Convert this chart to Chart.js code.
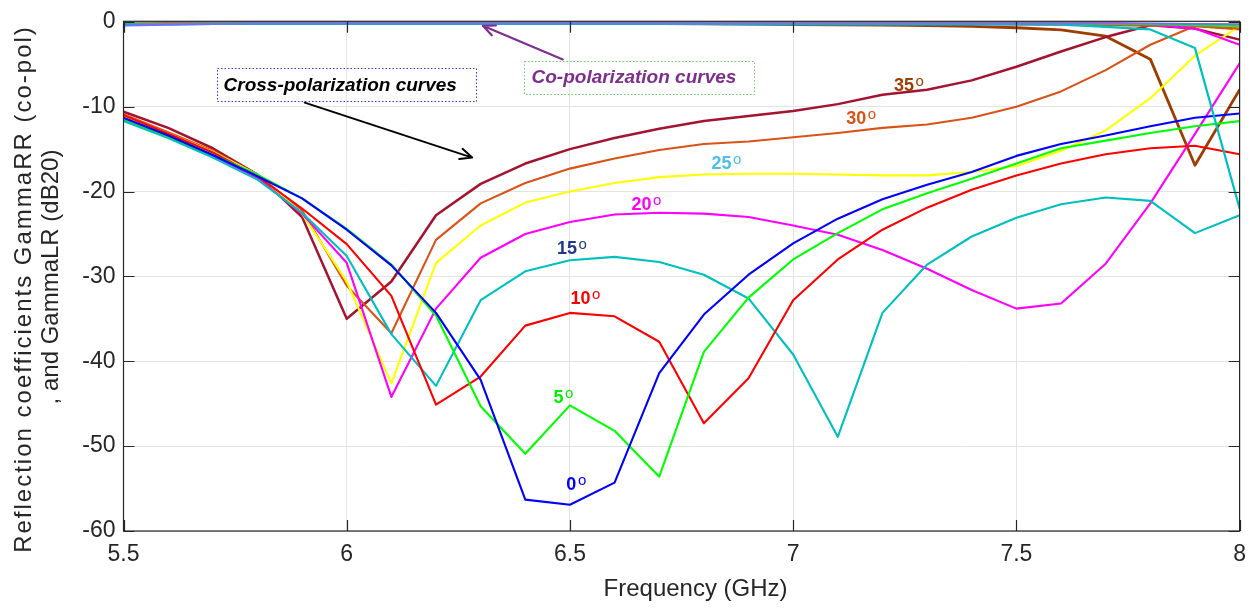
<!DOCTYPE html>
<html>
<head>
<meta charset="utf-8">
<script src="https://cdn.jsdelivr.net/npm/chart.js@4.4.1/dist/chart.umd.min.js"></script>
<style>
  html, body { margin: 0; padding: 0; background: #ffffff; }
  #wrap { width: 1256px; height: 608px; position: relative; }
</style>
</head>
<body>
<div id="wrap"><canvas id="c" width="1256" height="608"></canvas></div>
<script>
// Frequency samples (GHz)
const freqGHz = [5.5, 5.6, 5.7, 5.8, 5.9, 6.0, 6.1, 6.2, 6.3, 6.4, 6.5, 6.6, 6.7,
                 6.8, 6.9, 7.0, 7.1, 7.2, 7.3, 7.4, 7.5, 7.6, 7.7, 7.8, 7.9, 8.0];

// Cross-polarization reflection GammaLR (dB20) per incidence angle
const cross0  = [-11.3, -13.4, -15.7, -18.2, -20.8, -24.5, -28.7, -34.3, -42.2, -56.3, -56.9, -54.3, -41.4,
                 -34.5, -29.8, -26.1, -23.2, -20.9, -19.2, -17.7, -15.8, -14.4, -13.4, -12.3, -11.3, -10.8];
const cross5  = [-11.4, -13.5, -15.7, -18.0, -20.8, -24.4, -28.6, -34.6, -45.3, -50.9, -45.2, -48.2, -53.6,
                 -38.9, -32.5, -28.0, -24.9, -22.1, -20.2, -18.5, -16.7, -14.9, -14.0, -13.1, -12.3, -11.7];
const cross10 = [-11.0, -13.2, -15.4, -18.2, -22.0, -26.2, -32.3, -45.1, -41.8, -35.8, -34.3, -34.7, -37.7,
                 -47.3, -42.0, -32.8, -28.0, -24.5, -21.9, -19.8, -18.1, -16.7, -15.6, -14.9, -14.6, -15.6];
const cross15 = [-11.7, -13.7, -16.0, -18.6, -22.5, -27.6, -36.8, -42.9, -32.8, -29.4, -28.1, -27.7, -28.3,
                 -29.8, -32.6, -39.2, -48.9, -34.3, -28.6, -25.3, -23.1, -21.5, -20.7, -21.1, -24.9, -22.8];
const cross20 = [-11.5, -13.6, -15.8, -18.4, -22.6, -28.4, -44.2, -33.8, -27.8, -25.0, -23.6, -22.7, -22.5,
                 -22.6, -23.0, -24.0, -25.1, -26.9, -29.1, -31.6, -33.8, -33.2, -28.5, -21.4, -13.2, -4.9];
const cross25 = [-11.1, -13.2, -15.3, -18.0, -22.6, -30.6, -42.6, -28.4, -24.0, -21.3, -20.0, -19.0, -18.3,
                 -18.0, -17.9, -17.9, -18.0, -18.1, -18.1, -17.7, -17.0, -15.2, -12.8, -9.0, -4.0, -0.5];
const cross30 = [-10.9, -13.0, -15.2, -18.0, -22.2, -31.1, -36.7, -25.7, -21.4, -19.0, -17.3, -16.1, -15.1,
                 -14.4, -14.1, -13.6, -13.1, -12.5, -12.1, -11.3, -10.0, -8.2, -5.7, -2.7, -0.5, -0.9];
const cross35 = [-10.6, -12.5, -14.9, -18.0, -23.0, -35.0, -30.6, -22.8, -19.1, -16.7, -15.0, -13.7, -12.6,
                 -11.7, -11.1, -10.5, -9.7, -8.6, -8.0, -6.9, -5.3, -3.5, -1.8, -0.4, -0.8, -2.1];

// Co-polarization reflection GammaRR (dB20) per incidence angle
const co0  = [-0.45, -0.35, -0.25, -0.2, -0.2, -0.2, -0.2, -0.2, -0.2, -0.2, -0.2, -0.2, -0.2,
              -0.2, -0.2, -0.2, -0.2, -0.2, -0.2, -0.2, -0.2, -0.2, -0.2, -0.2, -0.25, -0.3];
const co5  = [-0.3, -0.25, -0.2, -0.2, -0.2, -0.2, -0.2, -0.2, -0.2, -0.2, -0.2, -0.2, -0.2,
              -0.2, -0.2, -0.2, -0.2, -0.2, -0.2, -0.2, -0.2, -0.2, -0.25, -0.3, -0.4, -0.5];
const co10 = [-0.25, -0.2, -0.2, -0.2, -0.2, -0.2, -0.2, -0.2, -0.2, -0.2, -0.2, -0.2, -0.2,
              -0.2, -0.2, -0.2, -0.2, -0.2, -0.2, -0.2, -0.2, -0.2, -0.2, -0.25, -0.3, -0.4];
const co15 = [-0.3, -0.3, -0.25, -0.25, -0.25, -0.25, -0.25, -0.25, -0.25, -0.25, -0.25, -0.25, -0.25,
              -0.25, -0.3, -0.3, -0.3, -0.3, -0.3, -0.3, -0.3, -0.35, -0.6, -0.9, -3.1, -22.0];
const co20 = [-0.15, -0.1, -0.1, -0.05, -0.05, -0.05, -0.05, -0.05, -0.05, -0.05, -0.05, -0.05, -0.05,
              -0.05, -0.05, -0.05, -0.05, -0.05, -0.05, -0.05, -0.05, -0.05, -0.1, -0.3, -0.8, -2.7];
const co25 = [-0.2, -0.2, -0.2, -0.2, -0.2, -0.2, -0.2, -0.2, -0.2, -0.2, -0.2, -0.2, -0.2,
              -0.2, -0.2, -0.2, -0.2, -0.2, -0.2, -0.2, -0.2, -0.2, -0.2, -0.2, -0.25, -0.3];
const co30 = [-0.25, -0.2, -0.2, -0.2, -0.2, -0.2, -0.2, -0.2, -0.2, -0.2, -0.2, -0.2, -0.2,
              -0.2, -0.2, -0.2, -0.2, -0.2, -0.2, -0.25, -0.3, -0.35, -0.4, -0.45, -0.5, -0.8];
const co35 = [-0.2, -0.18, -0.16, -0.15, -0.15, -0.15, -0.15, -0.15, -0.15, -0.15, -0.18, -0.2, -0.22,
              -0.25, -0.28, -0.32, -0.35, -0.4, -0.45, -0.55, -0.7, -0.95, -1.7, -4.4, -16.9, -8.0];

// Axis tick values
const xTicks = [5.5, 6, 6.5, 7, 7.5, 8];
const yTicks = [-60, -50, -40, -30, -20, -10, 0];

// Angle annotations
const angleNames = ['35', '30', '25', '20', '15', '10', '5', '0'];

const pts = (vals) => freqGHz.map((f, i) => ({ x: f, y: vals[i] }));

const lineSet = (label, vals, color, width) => ({
  label, data: pts(vals), borderColor: color, backgroundColor: color,
  borderWidth: width, pointRadius: 0, tension: 0, fill: false,
  borderJoinStyle: 'round', borderCapStyle: 'round'
});

const datasets = [
  lineSet('co 0°', co0, '#6f6fff', 2.0),
  lineSet('co 15°', co15, '#00bfbf', 2.2),
  lineSet('co 5°', co5, '#00ff00', 2.0),
  lineSet('co 10°', co10, '#ff0000', 2.0),
  lineSet('co 25°', co25, '#ffff00', 2.0),
  lineSet('co 20°', co20, '#ff00ff', 2.2),
  lineSet('co 30°', co30, '#d95319', 2.2),
  lineSet('cross 0°', cross0, '#0000ff', 2.1),
  lineSet('cross 5°', cross5, '#00ff00', 2.1),
  lineSet('cross 10°', cross10, '#ff0000', 2.1),
  lineSet('cross 15°', cross15, '#00bfbf', 2.1),
  lineSet('cross 20°', cross20, '#ff00ff', 2.1),
  lineSet('cross 25°', cross25, '#ffff00', 2.1),
  lineSet('cross 30°', cross30, '#d95319', 2.1),
  lineSet('cross 35°', cross35, '#a2142f', 2.5),
  lineSet('co 35°', co35, '#9e3d00', 2.8)
];

// Text placements (data coordinates: frequency, dB)
const angleLabelSpots = [
  { x: 7.226, y: -8.16, color: '#9e3d00' },
  { x: 7.119, y: -12.04, color: '#d95319' },
  { x: 6.817, y: -17.36, color: '#4dbeee' },
  { x: 6.638, y: -22.14, color: '#ff00ff' },
  { x: 6.471, y: -27.38, color: '#1f3a8a' },
  { x: 6.501, y: -33.29, color: '#ff0000' },
  { x: 6.463, y: -44.94, color: '#00ee00' },
  { x: 6.492, y: -55.14, color: '#0000ff' }
];

const FONT = '"Liberation Sans", Arial, Helvetica, sans-serif';

function arrow(ctx, x1, y1, x2, y2, color, width, head) {
  ctx.save();
  ctx.strokeStyle = color;
  ctx.lineWidth = width;
  ctx.lineCap = 'round';
  ctx.lineJoin = 'round';
  ctx.beginPath();
  ctx.moveTo(x1, y1);
  ctx.lineTo(x2, y2);
  const a = Math.atan2(y2 - y1, x2 - x1);
  const s = 0.42;
  ctx.moveTo(x2 - head * Math.cos(a - s), y2 - head * Math.sin(a - s));
  ctx.lineTo(x2, y2);
  ctx.lineTo(x2 - head * Math.cos(a + s), y2 - head * Math.sin(a + s));
  ctx.stroke();
  ctx.restore();
}

function dottedBox(ctx, x1, y1, x2, y2, color) {
  ctx.save();
  ctx.strokeStyle = color;
  ctx.lineWidth = 1;
  ctx.setLineDash([1.5, 2]);
  ctx.strokeRect(Math.round(x1) + 0.5, Math.round(y1) + 0.5, Math.round(x2 - x1), Math.round(y2 - y1));
  ctx.restore();
}

const decorations = {
  id: 'decorations',
  afterDraw(chart) {
    const { ctx, chartArea: a, scales: { x, y } } = chart;
    const X = (v) => x.getPixelForValue(v);
    const Y = (v) => y.getPixelForValue(v);

    // axes box with inward tick marks
    ctx.save();
    ctx.strokeStyle = '#262626';
    ctx.lineWidth = 1.2;
    ctx.strokeRect(a.left, a.top - 0.5, a.right - a.left, a.bottom - a.top + 0.5);
    ctx.beginPath();
    xTicks.forEach((v) => {
      const px = Math.round(X(v)) + 0.5;
      ctx.moveTo(px, a.bottom); ctx.lineTo(px, a.bottom - 11);
      ctx.moveTo(px, a.top); ctx.lineTo(px, a.top + 11);
    });
    yTicks.forEach((v) => {
      const py = Math.round(Y(v)) + 0.5;
      ctx.moveTo(a.left, py); ctx.lineTo(a.left + 11, py);
      ctx.moveTo(a.right, py); ctx.lineTo(a.right - 11, py);
    });
    ctx.stroke();
    ctx.restore();

    // axis titles
    ctx.save();
    ctx.fillStyle = '#262626';
    ctx.font = '24px ' + FONT;
    ctx.textAlign = 'center';
    ctx.textBaseline = 'alphabetic';
    ctx.fillText('Frequency (GHz)', (a.left + a.right) / 2 + 14, 596);
    ctx.save();
    ctx.translate(0, 289);
    ctx.rotate(-Math.PI / 2);
    ctx.letterSpacing = '2px';
    ctx.fillText('Reflection coefficients GammaRR (co-pol)', 0, 31);
    ctx.restore();
    ctx.translate(0, 277);
    ctx.rotate(-Math.PI / 2);
    ctx.fillText(', and GammaLR (dB20)', 0, 58);
    ctx.restore();

    // callouts
    ctx.save();
    dottedBox(ctx, X(5.7085), Y(-5.39), X(6.288), Y(-9.32), '#3333ff');
    dottedBox(ctx, X(6.396), Y(-4.63), X(6.911), Y(-8.5), '#66cc66');
    ctx.font = 'italic bold 19px ' + FONT;
    ctx.textAlign = 'left';
    ctx.textBaseline = 'alphabetic';
    ctx.fillStyle = '#000000';
    ctx.fillText('Cross-polarization curves', X(5.7085) + 7, Y(-8.1));
    ctx.fillStyle = '#7e2f8e';
    ctx.fillText('Co-polarization curves', X(6.396) + 8, Y(-7.25));
    ctx.restore();
    arrow(ctx, X(5.906), Y(-9.52), X(6.281), Y(-16.0), '#000000', 2, 13);
    arrow(ctx, X(6.484), Y(-4.43), X(6.305), Y(-0.47), '#7e2f8e', 2.2, 13);

    // angle labels
    ctx.save();
    ctx.textAlign = 'left';
    ctx.textBaseline = 'alphabetic';
    angleLabelSpots.forEach((s, i) => {
      const px = X(s.x), py = Y(s.y);
      ctx.fillStyle = s.color;
      ctx.font = 'bold 18px ' + FONT;
      ctx.fillText(angleNames[i], px, py);
      const w = ctx.measureText(angleNames[i]).width;
      ctx.font = '15px ' + FONT;
      ctx.fillText('o', px + w + 1.5, py - 5);
    });
    ctx.restore();
  }
};

new Chart(document.getElementById('c'), {
  type: 'line',
  data: { datasets },
  options: {
    responsive: false,
    animation: false,
    devicePixelRatio: 1,
    layout: { padding: { left: 0, right: 15, top: 16, bottom: 0 } },
    plugins: { legend: { display: false }, tooltip: { enabled: false } },
    scales: {
      x: {
        type: 'linear', min: 5.5, max: 8,
        afterFit: (s) => { s.height = 77; },
        afterBuildTicks: (s) => { s.ticks = xTicks.map((v) => ({ value: v })); },
        ticks: {
          color: '#262626', font: { family: FONT, size: 23 }, padding: 10,
          maxRotation: 0, autoSkip: false,
          callback: (v) => String(v)
        },
        grid: { color: '#e4e4e4', lineWidth: 1, drawTicks: false },
        border: { display: false }
      },
      y: {
        type: 'linear', min: -60, max: 0,
        afterFit: (s) => { s.width = 123.5; },
        afterBuildTicks: (s) => { s.ticks = yTicks.map((v) => ({ value: v })); },
        ticks: {
          color: '#262626', font: { family: FONT, size: 23 }, padding: 8,
          callback: (v) => String(v)
        },
        grid: { color: '#e4e4e4', lineWidth: 1, drawTicks: false },
        border: { display: false }
      }
    }
  },
  plugins: [decorations]
});
</script>
</body>
</html>
